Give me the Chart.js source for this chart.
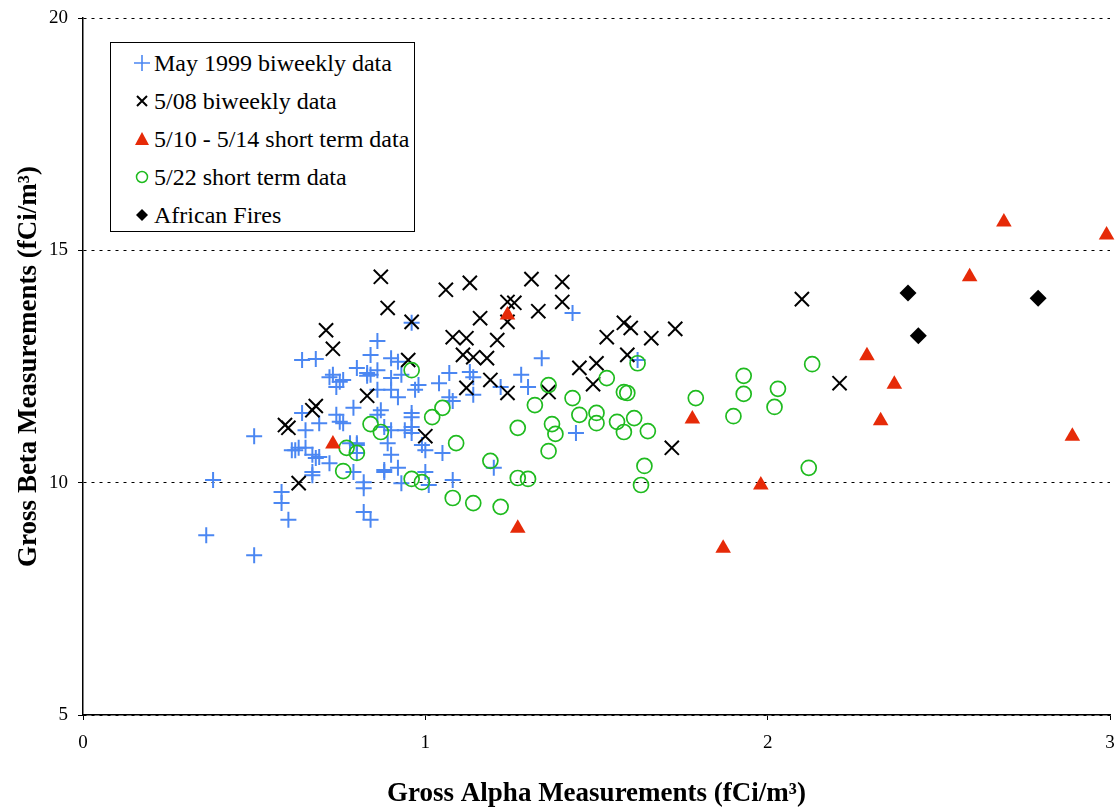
<!DOCTYPE html>
<html>
<head>
<meta charset="utf-8">
<script src="https://cdn.jsdelivr.net/npm/chart.js@4"></script>
<style>
  body { margin: 0; background: #fff; }
  #wrap { position: relative; width: 1117px; height: 809px; }
  #legend {
    position: absolute; left: 110px; top: 42px; width: 305px; height: 190px;
    border: 1px solid #000; background: #fff; box-sizing: border-box;
    font-family: 'Liberation Serif', 'Times New Roman', serif; font-size: 24px; color: #000;
    padding-top: 1px;
  }
  .row { height: 38px; display: flex; align-items: center; }
  .row svg { margin-left: 23px; margin-right: 4px; }
</style>
</head>
<body>
<div id="wrap">
  <canvas id="chart" width="1117" height="809"></canvas>
  <div id="legend"></div>
</div>
<script>
// [gross alpha, gross beta] in fCi/m3
const may1999 = [
  [0.36, 8.87], [0.50, 8.44], [0.38, 10.06], [0.50, 11.00], [0.58, 9.80], [0.58, 9.56],
  [0.60, 9.20], [0.61, 10.70], [0.62, 10.70], [0.63, 10.75], [0.65, 10.75], [0.67, 10.60],
  [0.68, 10.53], [0.72, 10.42], [0.67, 10.16], [0.65, 11.13], [0.69, 11.28], [0.64, 11.50],
  [0.64, 12.64], [0.68, 12.66], [0.72, 12.27], [0.76, 12.21], [0.74, 12.06], [0.79, 11.61],
  [0.75, 11.31], [0.76, 11.28], [0.78, 10.85], [0.80, 10.81], [0.80, 10.64], [0.79, 10.23],
  [0.82, 10.01], [0.82, 9.88], [0.82, 9.37], [0.84, 9.20], [0.86, 13.05], [0.84, 12.75],
  [0.90, 12.68], [0.92, 12.60], [0.80, 12.47], [0.83, 12.36], [0.84, 12.32], [0.86, 12.42],
  [0.73, 12.32], [0.75, 12.17], [0.90, 12.25], [0.93, 12.32], [0.86, 12.00], [0.90, 12.00],
  [0.92, 11.84], [0.98, 12.10], [0.97, 12.00], [1.04, 12.14], [1.07, 12.36], [1.08, 11.76],
  [0.87, 11.56], [0.96, 11.50], [0.74, 11.46], [0.96, 13.44], [0.86, 11.46], [0.88, 11.20],
  [0.90, 11.13], [0.90, 10.60], [0.88, 10.23], [0.92, 10.32], [0.93, 9.99], [0.96, 11.20],
  [0.99, 10.81], [1.00, 10.70], [1.05, 10.64], [1.00, 10.23], [1.08, 10.06], [0.96, 11.41],
  [0.96, 11.07], [1.01, 9.95], [1.20, 10.32], [1.44, 11.07], [1.43, 13.65], [1.34, 12.68],
  [1.13, 12.38], [1.14, 12.27], [1.28, 12.32], [1.30, 12.06], [1.22, 12.06], [1.14, 11.89],
  [1.07, 11.84], [1.62, 12.64], [0.88, 10.27], [0.94, 11.13], [0.89, 10.85], [0.83, 12.30],
  [0.69, 10.55], [0.67, 10.23], [0.80, 10.85]
];
const may08 = [
  [0.59, 11.24], [0.60, 11.18], [0.63, 9.99], [0.68, 11.65], [0.67, 11.56], [0.71, 13.28],
  [0.73, 12.88], [0.83, 11.87], [0.87, 14.43], [0.89, 13.76], [0.96, 13.46], [0.95, 12.64],
  [1.00, 11.00], [1.06, 14.15], [1.13, 14.30], [1.31, 14.38], [1.40, 14.32], [1.40, 13.89],
  [1.24, 13.89], [1.26, 13.87], [1.33, 13.69], [1.16, 13.54], [1.24, 13.46], [1.08, 13.13],
  [1.12, 13.11], [1.21, 13.07], [1.11, 12.75], [1.14, 12.70], [1.18, 12.68], [1.19, 12.21],
  [1.12, 12.04], [1.24, 11.93], [1.36, 11.95], [1.45, 12.47], [1.50, 12.57], [1.49, 12.12],
  [1.53, 13.13], [1.58, 13.44], [1.60, 13.33], [1.59, 12.75], [1.66, 13.11], [1.73, 13.31],
  [1.72, 10.75], [2.10, 13.95], [2.21, 12.14]
];
const shortTerm0510 = [
  [0.73, 10.83], [1.24, 13.61], [1.27, 9.02], [1.78, 11.37], [1.87, 8.59], [1.98, 9.95],
  [2.29, 12.73], [2.33, 11.33], [2.37, 12.12], [2.59, 14.43], [2.69, 15.61], [2.89, 11.00],
  [2.99, 15.33]
];
const shortTerm0522 = [
  [0.84, 11.26], [0.87, 11.09], [0.77, 10.75], [0.80, 10.64], [0.76, 10.25], [0.96, 12.42],
  [1.02, 11.41], [1.05, 11.61], [1.09, 10.85], [1.19, 10.47], [0.96, 10.08], [0.99, 10.01],
  [1.08, 9.67], [1.14, 9.56], [1.22, 9.48], [1.27, 11.18], [1.37, 11.26], [1.38, 11.05],
  [1.36, 10.68], [1.27, 10.10], [1.30, 10.08], [1.32, 11.67], [1.36, 12.10], [1.43, 11.82],
  [1.45, 11.46], [1.50, 11.50], [1.50, 11.28], [1.56, 11.31], [1.53, 12.25], [1.58, 11.95],
  [1.59, 11.93], [1.62, 12.57], [1.61, 11.39], [1.58, 11.09], [1.65, 11.11], [1.64, 10.36],
  [1.63, 9.95], [1.79, 11.82], [1.93, 12.30], [1.93, 11.91], [2.03, 12.02], [2.02, 11.63],
  [1.90, 11.43], [2.13, 12.55], [2.12, 10.32]
];
const africanFires = [[2.41, 14.08], [2.44, 13.16], [2.79, 13.97]];

const seriesNames = ['May 1999 biweekly data', '5/08 biweekly data', '5/10 - 5/14 short term data',
  '5/22 short term data', 'African Fires'];
const xTicks = [0, 1, 2, 3];
const yTicks = [5, 10, 15, 20];

const BLUE = '#4b87f2', BLACK = '#000000', RED = '#e62a08', GREEN = '#1fbb1f';
const serif = "'Liberation Serif', 'Times New Roman', serif";

const toPts = arr => arr.map(p => ({ x: p[0], y: p[1] }));

const datasets = [
  { label: seriesNames[0], data: toPts(may1999), pointStyle: 'cross', pointRadius: 8,
    borderColor: BLUE, backgroundColor: BLUE, pointBorderWidth: 2, order: 5 },
  { label: seriesNames[1], data: toPts(may08), pointStyle: 'crossRot', pointRadius: 10,
    borderColor: BLACK, backgroundColor: BLACK, pointBorderWidth: 2, order: 4 },
  { label: seriesNames[2], data: toPts(shortTerm0510), pointStyle: 'triangle', pointRadius: 9,
    borderColor: RED, backgroundColor: RED, pointBorderWidth: 0, order: 1 },
  { label: seriesNames[3], data: toPts(shortTerm0522), pointStyle: 'circle', pointRadius: 7.5,
    borderColor: GREEN, backgroundColor: 'rgba(0,0,0,0)', pointBorderWidth: 1.7, order: 3 },
  { label: seriesNames[4], data: toPts(africanFires), pointStyle: 'rectRot', pointRadius: 8.5,
    borderColor: BLACK, backgroundColor: BLACK, pointBorderWidth: 0, order: 0 }
];

new Chart(document.getElementById('chart').getContext('2d'), {
  type: 'scatter',
  data: { datasets: datasets },
  options: {
    responsive: false,
    animation: false,
    clip: false,
    layout: { autoPadding: false, padding: { top: 18, right: 7, left: 0, bottom: 0 } },
    plugins: { legend: { display: false }, tooltip: { enabled: false } },
    scales: {
      x: {
        type: 'linear', min: 0, max: 3,
        afterBuildTicks: s => { s.ticks = xTicks.map(v => ({ value: v })); },
        afterFit: s => { s.height = 94; s.paddingLeft = 0; s.paddingRight = 0; },
        ticks: { color: '#000', font: { family: serif, size: 19 }, padding: 12 },
        grid: { drawOnChartArea: false, drawTicks: true, tickLength: 5, color: '#000', tickColor: '#000' },
        border: { display: true, color: '#000', width: 1.5 },
        title: { display: true, text: 'Gross Alpha Measurements (fCi/m³)', color: '#000',
          font: { family: serif, size: 27, weight: 'bold' }, padding: { top: 0, bottom: -1 } }
      },
      y: {
        type: 'linear', min: 5, max: 20,
        afterBuildTicks: s => { s.ticks = yTicks.map(v => ({ value: v })); },
        afterFit: s => { s.width = 83; s.paddingTop = 0; s.paddingBottom = 0; },
        ticks: { color: '#000', font: { family: serif, size: 19 }, padding: 10 },
        grid: { color: '#000', lineWidth: 1, tickLength: 5, tickColor: '#000', tickBorderDash: [] },
        border: { display: true, color: '#000', width: 1.5, dash: [3, 5] },
        title: { display: true, text: 'Gross Beta Measurements (fCi/m³)', color: '#000',
          font: { family: serif, size: 27, weight: 'bold' }, padding: { top: 13, bottom: 0 } }
      }
    }
  }
});

// legend drawn as html over the plot, markers as small svg
const legendMarks = [
  `<svg width="16" height="16"><path d="M8 0V16M0 8H16" stroke="${BLUE}" stroke-width="1.6"/></svg>`,
  `<svg width="16" height="16"><path d="M3 3L13 13M13 3L3 13" stroke="${BLACK}" stroke-width="2"/></svg>`,
  `<svg width="16" height="16"><path d="M8 1L15 14H1Z" fill="${RED}"/></svg>`,
  `<svg width="16" height="16"><circle cx="8" cy="8" r="5.5" fill="none" stroke="${GREEN}" stroke-width="1.5"/></svg>`,
  `<svg width="16" height="16"><path d="M8 2L14 8L8 14L2 8Z" fill="${BLACK}"/></svg>`
];
document.getElementById('legend').innerHTML = seriesNames
  .map((name, i) => `<div class="row">${legendMarks[i]}<span>${name}</span></div>`).join('');
</script>
</body>
</html>
